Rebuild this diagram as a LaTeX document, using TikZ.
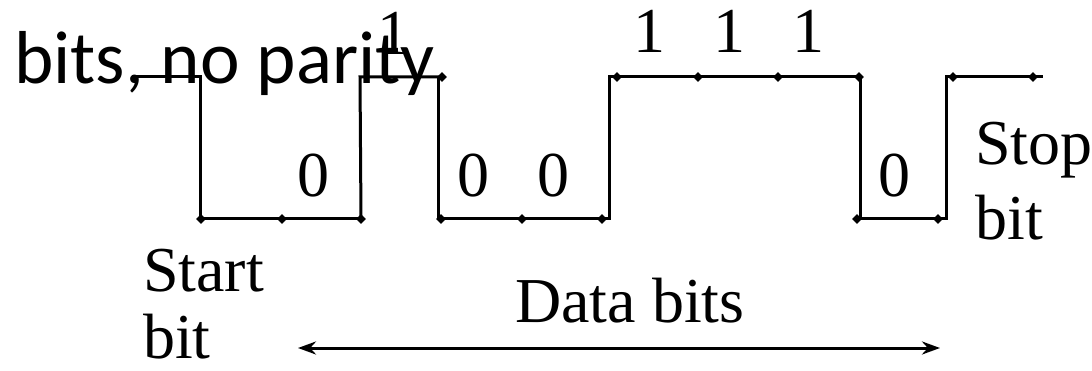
\documentclass[tikz,border=0pt]{standalone}
\usepackage{fontspec}
\setmainfont{Liberation Serif}
\newfontfamily\calibri{Carlito}
\usetikzlibrary{arrows.meta,shapes.geometric}

\tikzset{
  wave/.style={line width=3pt, line join=miter},
  bitdot/.style={diamond, fill=black, inner sep=0pt, minimum width=10pt, minimum height=10pt},
  serif/.style={inner sep=0pt, font=\fontsize{64}{64}\selectfont},
  bitval/.style={serif, anchor=base},
  caption/.style={serif, anchor=base west, align=left},
  span/.style={line width=3pt, {Stealth[length=18pt,width=13pt]}-{Stealth[length=18pt,width=13pt]}}
}

\begin{document}
\begin{tikzpicture}[x=1pt, y=-1pt]
  \useasboundingbox (0,0) rectangle (1092,371);

  % heading line (sans)
  \node[inner sep=0pt, anchor=base west, font=\calibri\fontsize{75}{75}\selectfont] (head) at (14,84) {bits, no parity};

  % levels
  \def\hi{77}
  \def\lo{219}

  % corners of the line signal
  \coordinate (w0) at (132,\hi);
  \coordinate (w1) at (200,\hi);
  \coordinate (w2) at (200,\lo);
  \coordinate (w3) at (361,\lo);
  \coordinate (w4) at (360,\hi);
  \coordinate (w5) at (442,\hi);
  \coordinate (w6) at (438,\hi);
  \coordinate (w7) at (438,\lo);
  \coordinate (w8) at (609,\lo);
  \coordinate (w9) at (609,\hi);
  \coordinate (w10) at (860,\hi);
  \coordinate (w11) at (860,\lo);
  \coordinate (w12) at (946,\lo);
  \coordinate (w13) at (946,\hi);
  \coordinate (w14) at (1043,\hi);

  \draw[wave] (w0) -- (w1) -- (w2) -- (w3);
  \draw[wave] (w3) -- (w4) -- (w5);
  \draw[wave] (w6) -- (w7) -- (w8) -- (w9) -- (w10) -- (w11) -- (w12) -- (w13) -- (w14);

  % bit boundary dots
  \foreach \x [count=\i] in {201,282,361,441,522,602,857,938}
    \node[bitdot] (dl\i) at (\x,\lo) {};
  \foreach \x [count=\i] in {442,617,698,778,859,953,1033}
    \node[bitdot] (dh\i) at (\x,\hi) {};

  % bit values
  \node[bitval] (b1) at (393,55) {1};
  \node[bitval] (b0a) at (313,197) {0};
  \node[bitval] (b0b) at (473,197) {0};
  \node[bitval] (b0c) at (553,197) {0};
  \node[bitval] (b1a) at (649,53) {1};
  \node[bitval] (b1b) at (729,53) {1};
  \node[bitval] (b1c) at (808,53) {1};
  \node[bitval] (b0d) at (894,197) {0};

  % captions
  \node[caption] (stop) at (975,165) {Stop};
  \node[caption] (stopb) at (975,240) {bit};
  \node[caption] (start) at (143,292) {Start};
  \node[caption] (startb) at (143,358) {bit};
  \node[caption] (data) at (515,323) {Data bits};

  % span of the data bits
  \coordinate (sl) at (298,348);
  \coordinate (sr) at (940,348);
  \draw[span] (sl) -- (sr);
\end{tikzpicture}
\end{document}
